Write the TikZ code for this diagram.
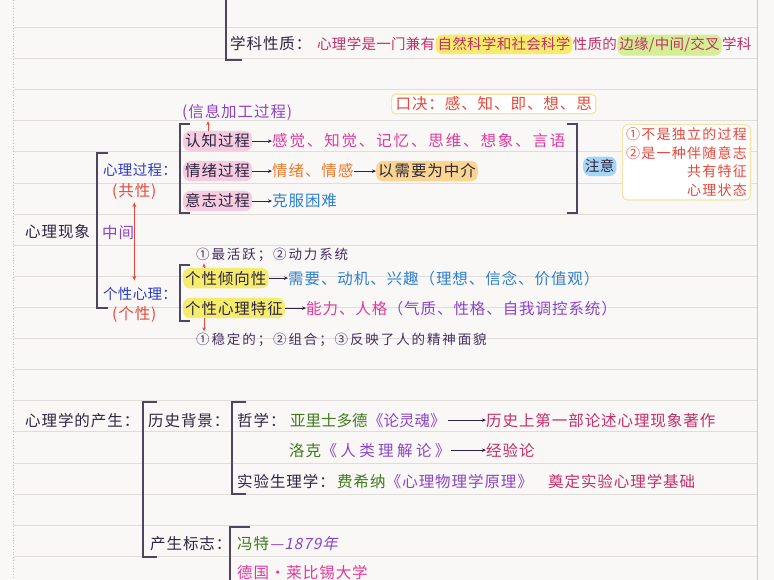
\documentclass[tikz,border=0pt]{standalone}
\usepackage{fontspec}
\setmainfont{Noto Sans CJK SC}
\newfontfamily\hw[LetterSpace=6]{Noto Sans CJK SC}
\newfontfamily\hwa[LetterSpace=2]{Noto Sans CJK SC}
\newfontfamily\hwb[LetterSpace=0]{Noto Sans CJK SC}
\newfontfamily\hwc[LetterSpace=12]{Noto Sans CJK SC}
\newfontfamily\hwd[LetterSpace=22]{Noto Sans CJK SC}
\newfontfamily\hwn[LetterSpace=14]{Noto Sans CJK SC}
\newfontfamily\hwm[LetterSpace=9]{Noto Sans CJK SC}
\newfontfamily\hwslant[LetterSpace=6,FakeSlant=0.2]{Noto Sans CJK SC}
\newcommand\sz{\fontsize{15.5}{17}\selectfont}
\usetikzlibrary{arrows.meta,positioning}

\definecolor{paper}{HTML}{FAF8F7}
\definecolor{rulegray}{HTML}{E0DCDA}
\definecolor{ink}{HTML}{2E2540}
\definecolor{crimson}{HTML}{C42E6A}
\definecolor{rose}{HTML}{E2389C}
\definecolor{tangerine}{HTML}{F0782A}
\definecolor{sky}{HTML}{2C80D2}
\definecolor{royal}{HTML}{2A3CC8}
\definecolor{redink}{HTML}{E8473A}
\definecolor{violet}{HTML}{8B44C9}
\definecolor{olive}{HTML}{3F7A1C}
\definecolor{hlyellow}{HTML}{F6EC6C}
\definecolor{hlgreen}{HTML}{D3EE93}
\definecolor{hlpink}{HTML}{F6CDE0}
\definecolor{hlorange}{HTML}{FAD690}
\definecolor{hlblue}{HTML}{A6D6F5}
\definecolor{boxline}{HTML}{F7E3A6}

\tikzset{
  piece/.style={inner sep=0pt, anchor=base west, font=\hw\sz},
  tight/.style={font=\hwa\fontsize{14.5}{17}\selectfont},
  snug/.style={font=\hwb\sz},
  wide/.style={font=\hwc\sz},
  wider/.style={font=\hwd\sz},
  note/.style={piece, font=\hwn\fontsize{13.5}{16}\selectfont},
  hl/.style={fill=#1, rounded corners=7pt, inner xsep=2pt, inner ysep=3pt},
  brk/.style={draw=ink!85, line width=1.2pt},
  tip/.style={-{Stealth[length=4pt,width=3.5pt]}, line width=0.7pt, ink},
  redtip/.style={-{Stealth[length=4pt,width=3.5pt]}, line width=0.7pt, redink},
  redboth/.style={{Stealth[length=5pt,width=4pt]}-{Stealth[length=5pt,width=4pt]}, line width=0.8pt, redink},
}

\begin{document}
\begin{tikzpicture}[x=1pt,y=-1pt]
\path[use as bounding box, fill=paper] (0,0) rectangle (774,580);

% ruled paper
\foreach \k in {0,...,17}
  \draw[rulegray, line width=0.8pt] (14,27.5+31.1*\k) -- (757,27.5+31.1*\k);
\draw[rulegray!70!gray, dotted, line width=0.8pt] (13.5,0) -- (13.5,580);
\draw[rulegray!80!gray, line width=0.8pt] (757,0) -- (757,580);

% 学科性质
\draw[brk] (226,0) -- (226,60) -- (242,60);
\node[piece, text=ink] (xkxz) at (230,50) {学科性质：};
\node[piece, tight, text=crimson] (xkxz1) at (317,50) {心理学是一门兼有};
\node[piece, tight, hl=hlyellow, text=crimson] (xkxz2) at (xkxz1.base east) {自然科学和社会科学};
\node[piece, tight, text=crimson] (xkxz3) at (xkxz2.base east) {性质的};
\node[piece, tight, hl=hlgreen, text=crimson] (xkxz4) at (xkxz3.base east) {边缘/中间/交叉};
\node[piece, tight, text=crimson] (xkxz5) at (xkxz4.base east) {学科};

% 心理过程
\node[draw=boxline, line width=1.2pt, rounded corners=4pt, fill=white, text=redink,
  inner xsep=4pt, inner ysep=2.5pt, anchor=west, font=\hw\sz] (kj) at (391,104) {口决：感、知、即、想、思};
\node[piece, text=violet] (xxjg) at (182,118) {(信息加工过程)};

\draw[brk] (190,124) -- (180,124) -- (180,213) -- (190,213);
\draw[brk] (567,124) -- (577,124) -- (577,213) -- (567,213);

\node[piece, hl=hlpink, text=ink] (rz) at (183,147) {认知过程};
\node[piece, wide, text=rose] (rz1) at (272,147) {感觉、知觉、记忆、思维、想象、言语};
\draw[tip] (rz.east) -- (rz.east -| rz1.west);
\coordinate (ua) at (208,0);
\draw[redtip] (rz.north -| ua) -- (xxjg.south -| ua);

\node[piece, hl=hlpink, text=ink] (qx) at (183,177) {情绪过程};
\node[piece, text=tangerine] (qx1) at (272,177) {情绪、情感};
\node[piece, hl=hlorange, text=ink] (qx2) at (376,177) {以需要为中介};
\draw[tip] (qx.east) -- (qx.east -| qx1.west);
\draw[tip] (qx.east -| qx1.east) -- (qx.east -| qx2.west);

\node[piece, hl=hlpink, text=ink] (yz) at (183,207) {意志过程};
\node[piece, text=sky] (yz1) at (272,207) {克服困难};
\draw[tip] (yz.east) -- (yz.east -| yz1.west);

% 注意
\node[piece, tight, hl=hlblue, text=ink] (zy) at (583,172) {注意};
\node[draw=boxline, line width=1.2pt, rounded corners=5pt, fill=white, text=redink,
  anchor=north west, align=right, inner sep=3.5pt,
  font=\hwm\fontsize{14}{18.5}\selectfont] (zyb) at (622,124)
  {①不是独立的过程\\②是一种伴随意志\\共有特征\\心理状态};

% 心理现象
\node[piece, text=ink] (xlxx) at (25,238) {心理现象};
\draw[brk] (108,153) -- (97,153) -- (97,308) -- (108,308);
\node[piece, tight, text=royal] (xlgc) at (103,176) {心理过程：};
\node[piece, text=redink] (gongx) at (112,197) {(共性)};
\node[piece, text=violet] (zj) at (102,239) {中间};
\node[piece, tight, text=royal] (gxxl) at (103,299) {个性心理：};
\node[piece, text=redink] (gex) at (112,319) {(个性)};
\draw[redboth] ([yshift=-2pt]gongx.south) -- ([yshift=6pt]gxxl.north -| gongx.south);

% 个性心理
\node[note, text=ink!75!violet] (hy) at (196,260) {①最活跃；②动力系统};
\draw[brk] (190,265) -- (180,265) -- (180,321) -- (190,321);
\node[piece, hl=hlyellow, text=ink] (qxx) at (183,284) {个性倾向性};
\node[piece, text=sky] (qxx1) at (288,284) {需要、动机、兴趣（理想、信念、价值观）};
\draw[tip] (qxx.east) -- (qxx.east -| qxx1.west);
\node[piece, hl=hlyellow, text=ink] (tz) at (183,314) {个性心理特征};
\node[piece, text=rose] (tz1) at (306,314) {能力、人格};
\node[piece, text=violet] (tz2) at (tz1.base east) {（气质、性格、自我调控系统）};
\draw[tip] (tz.east) -- (tz.east -| tz1.west);
\node[note, text=ink!75!violet] (wd) at (196,344) {①稳定的；②组合；③反映了人的精神面貌};
\coordinate (ub) at (204,0);
\draw[redtip] (qxx.north -| ub) -- ([yshift=-1pt]hy.south -| ub);
\draw[redtip] (tz.south -| ub) -- ([yshift=1pt]wd.north -| ub);

% 心理学的产生
\node[piece, text=ink] (cs) at (25,426) {心理学的产生：};
\draw[brk] (157,402) -- (143,402) -- (143,557) -- (157,557);
\node[piece, text=ink] (lsbj) at (148,426) {历史背景：};
\draw[brk] (246,402) -- (232,402) -- (232,494) -- (246,494);

\node[piece, text=ink] (zx) at (237,426) {哲学：};
\node[piece, snug, text=olive] (zx1) at (290,426) {亚里士多德};
\node[piece, snug, text=violet] (zx2) at (zx1.base east) {《论灵魂》};
\node[piece, text=crimson] (zx3) at (486,426) {历史上第一部论述心理现象著作};
\draw[tip] ([xshift=2pt]zx2.east) -- (zx2.east -| zx3.west);

\node[piece, text=olive] (lk) at (289,456) {洛克};
\node[piece, wider, text=violet] (lk1) at (lk.base east) {《人类理解论》};
\node[piece, text=crimson] (lk2) at (486,456) {经验论};
\draw[tip] (lk1.east) -- (lk1.east -| lk2.west);

\node[piece, text=ink] (sy) at (237,487) {实验生理学：};
\node[piece, text=olive] (sy1) at (337,487) {费希纳};
\node[piece, text=violet] (sy2) at (sy1.base east) {《心理物理学原理》};
\node[piece, text=crimson] (sy3) at (548,487) {奠定实验心理学基础};

\node[piece, text=ink] (bz) at (150,549) {产生标志：};
\draw[brk] (250,527) -- (230,527) -- (230,585);
\node[piece, text=olive] (wt) at (237,549) {冯特};
\node[piece, text=violet, font=\hwslant\sz] (wt1) at (wt.base east) {—1879年};
\node[piece, text=rose] (dg) at (237,578) {德国·莱比锡大学};
\end{tikzpicture}
\end{document}
